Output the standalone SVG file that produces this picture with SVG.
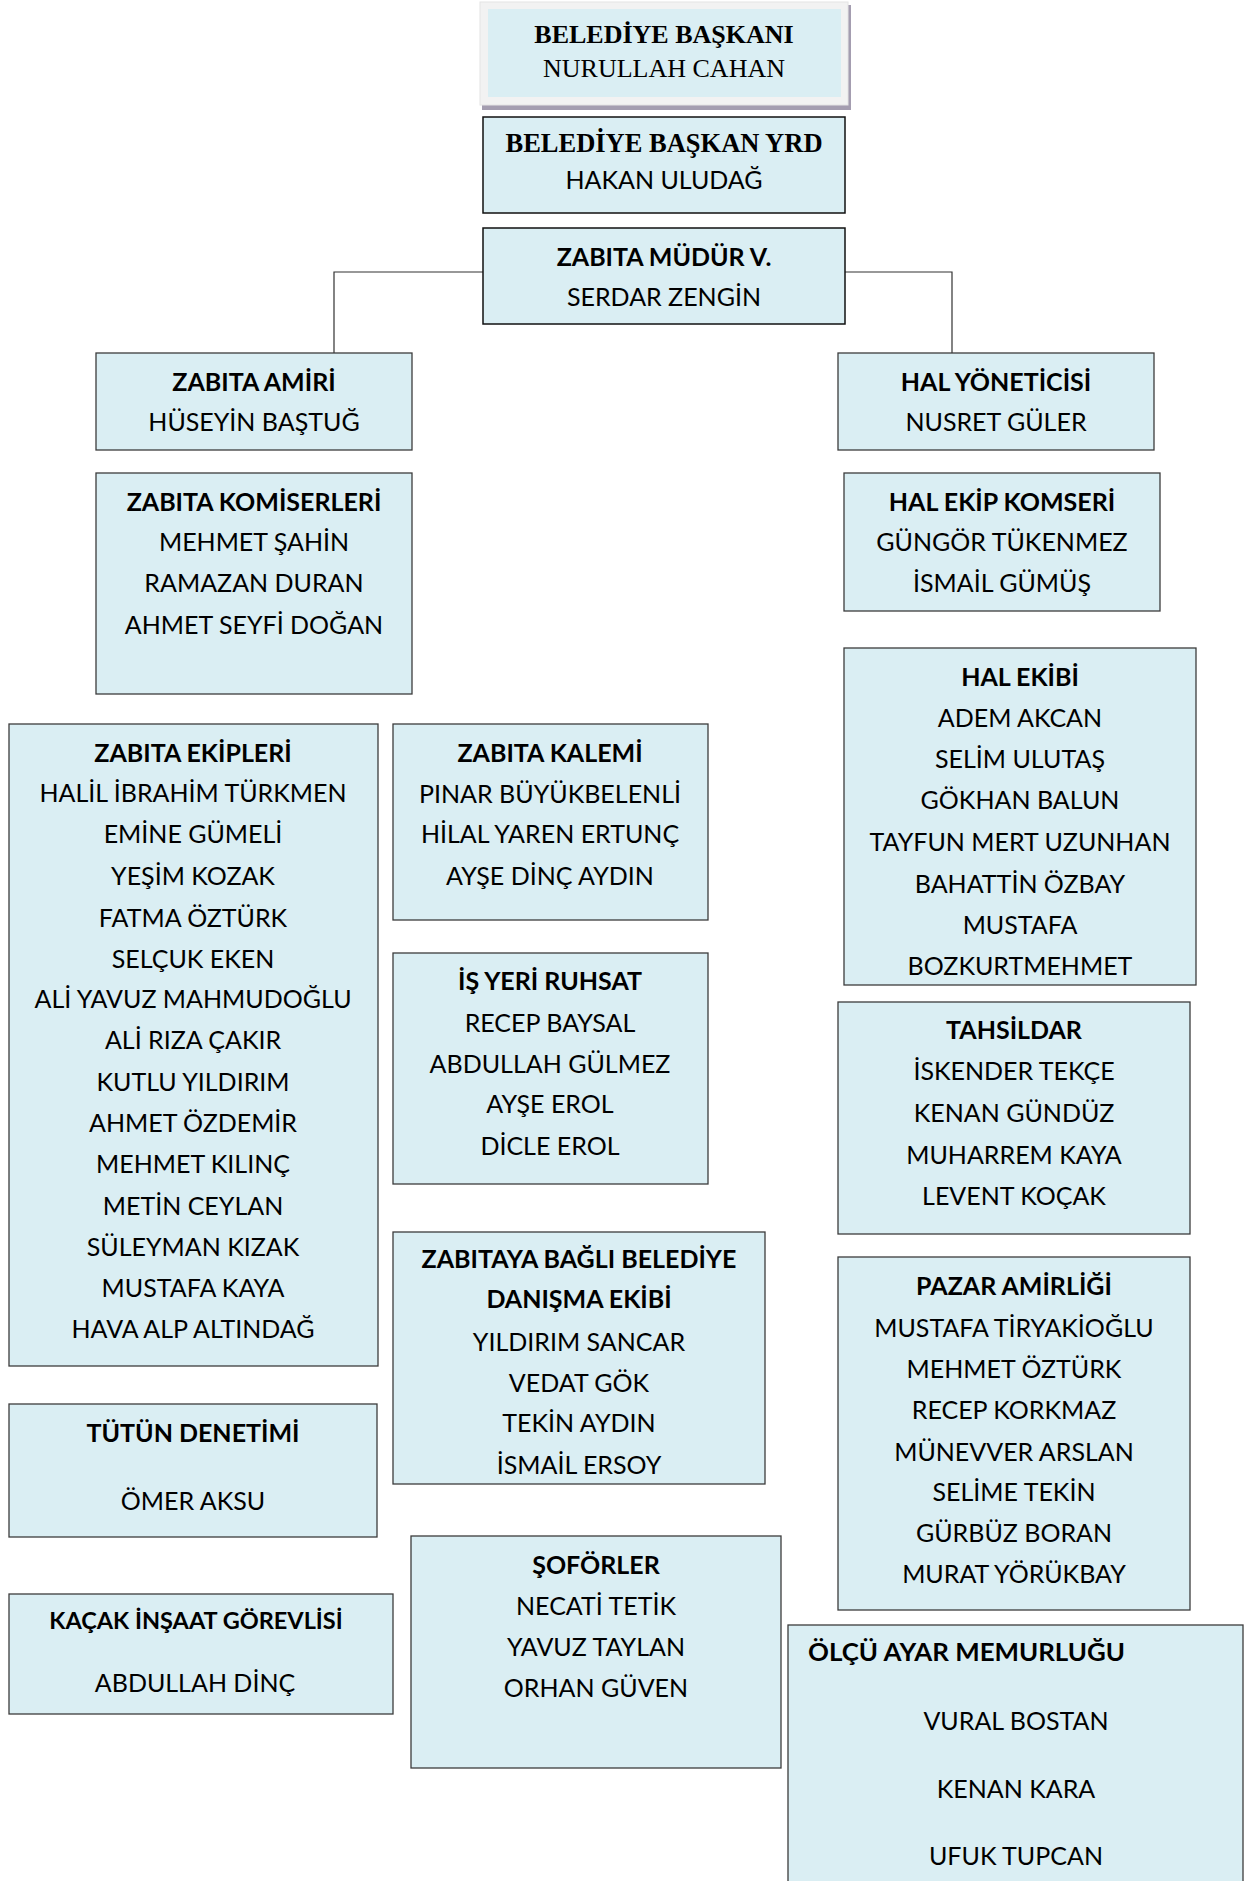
<svg xmlns="http://www.w3.org/2000/svg" width="1244" height="1881" viewBox="0 0 1244 1881">
<style>
.box{fill:#DAEEF3;stroke:#3c3c3c;stroke-width:1.3}
.box2{fill:#DAEEF3;stroke:#111;stroke-width:1.5}
.t{font-family:Lato,"Liberation Sans",sans-serif;font-size:25px;text-anchor:middle;fill:#000}
.s{font-family:"Liberation Serif",serif;font-size:26px;text-anchor:middle;fill:#000}
.b{font-weight:bold}
.conn{fill:none;stroke:#333;stroke-width:1.2}
</style>
<rect width="1244" height="1881" fill="#fff"/>
<g id="connectors">
<polyline class="conn" points="483,272 334,272 334,353"/>
<polyline class="conn" points="845,272 952,272 952,353"/>
</g>
<g id="baskan">
<rect x="482" y="5" width="369" height="105" fill="#A49DB0"/>
<rect x="480" y="2" width="368" height="103" fill="#F2F2F2" stroke="#e4e4e4" stroke-width="1"/>
<rect x="488" y="9" width="353" height="88" fill="#DAEEF3"/>
<text class="s b" x="664" y="43">BELEDİYE BAŞKANI</text>
<text class="s" x="664" y="77">NURULLAH CAHAN</text>
</g>
<g id="baskan-yrd">
<rect class="box2" x="483" y="117" width="362" height="96"/>
<text class="s b" x="664" y="152" style="font-size:26.5px">BELEDİYE BAŞKAN YRD</text>
<text class="t" x="664" y="189">HAKAN ULUDAĞ</text>
</g>
<g id="zabita-mudur">
<rect class="box2" x="483" y="228" width="362" height="96"/>
<text class="t b" x="664" y="266">ZABITA MÜDÜR V.</text>
<text class="t" x="664" y="306">SERDAR ZENGİN</text>
</g>
<g id="zabita-amiri">
<rect class="box" x="96" y="353" width="316" height="97"/>
<text class="t b" x="254" y="391">ZABITA AMİRİ</text>
<text class="t" x="254" y="431">HÜSEYİN BAŞTUĞ</text>
</g>
<g id="zabita-komiserleri">
<rect class="box" x="96" y="473" width="316" height="221"/>
<text class="t b" x="254" y="511">ZABITA KOMİSERLERİ</text>
<text class="t" x="254" y="551">MEHMET ŞAHİN</text>
<text class="t" x="254" y="592">RAMAZAN DURAN</text>
<text class="t" x="254" y="634">AHMET SEYFİ DOĞAN</text>
</g>
<g id="hal-yoneticisi">
<rect class="box" x="838" y="353" width="316" height="97"/>
<text class="t b" x="996" y="391">HAL YÖNETİCİSİ</text>
<text class="t" x="996" y="431">NUSRET GÜLER</text>
</g>
<g id="hal-ekip-komseri">
<rect class="box" x="844" y="473" width="316" height="138"/>
<text class="t b" x="1002" y="511">HAL EKİP KOMSERİ</text>
<text class="t" x="1002" y="551">GÜNGÖR TÜKENMEZ</text>
<text class="t" x="1002" y="592">İSMAİL GÜMÜŞ</text>
</g>
<g id="hal-ekibi">
<rect class="box" x="844" y="648" width="352" height="337"/>
<text class="t b" x="1020" y="686">HAL EKİBİ</text>
<text class="t" x="1020" y="727">ADEM AKCAN</text>
<text class="t" x="1020" y="768">SELİM ULUTAŞ</text>
<text class="t" x="1020" y="809">GÖKHAN BALUN</text>
<text class="t" x="1020" y="851">TAYFUN MERT UZUNHAN</text>
<text class="t" x="1020" y="893">BAHATTİN ÖZBAY</text>
<text class="t" x="1020" y="934">MUSTAFA</text>
<text class="t" x="1020" y="975">BOZKURTMEHMET</text>
</g>
<g id="tahsildar">
<rect class="box" x="838" y="1002" width="352" height="232"/>
<text class="t b" x="1014" y="1039">TAHSİLDAR</text>
<text class="t" x="1014" y="1080">İSKENDER TEKÇE</text>
<text class="t" x="1014" y="1122">KENAN GÜNDÜZ</text>
<text class="t" x="1014" y="1164">MUHARREM KAYA</text>
<text class="t" x="1014" y="1205">LEVENT KOÇAK</text>
</g>
<g id="pazar-amirligi">
<rect class="box" x="838" y="1257" width="352" height="353"/>
<text class="t b" x="1014" y="1295">PAZAR AMİRLİĞİ</text>
<text class="t" x="1014" y="1337">MUSTAFA TİRYAKİOĞLU</text>
<text class="t" x="1014" y="1378">MEHMET ÖZTÜRK</text>
<text class="t" x="1014" y="1419">RECEP KORKMAZ</text>
<text class="t" x="1014" y="1461">MÜNEVVER ARSLAN</text>
<text class="t" x="1014" y="1501">SELİME TEKİN</text>
<text class="t" x="1014" y="1542">GÜRBÜZ BORAN</text>
<text class="t" x="1014" y="1583">MURAT YÖRÜKBAY</text>
</g>
<g id="olcu-ayar">
<rect class="box" x="788" y="1625" width="455" height="270"/>
<text class="t b" x="808" y="1661" style="text-anchor:start" textLength="317" lengthAdjust="spacingAndGlyphs">ÖLÇÜ AYAR MEMURLUĞU</text>
<text class="t" x="1016" y="1730">VURAL BOSTAN</text>
<text class="t" x="1016" y="1798">KENAN KARA</text>
<text class="t" x="1016" y="1865">UFUK TUPCAN</text>
</g>
<g id="zabita-ekipleri">
<rect class="box" x="9" y="724" width="369" height="642"/>
<text class="t b" x="193" y="762">ZABITA EKİPLERİ</text>
<text class="t" x="193" y="802">HALİL İBRAHİM TÜRKMEN</text>
<text class="t" x="193" y="843">EMİNE GÜMELİ</text>
<text class="t" x="193" y="885">YEŞİM KOZAK</text>
<text class="t" x="193" y="927">FATMA ÖZTÜRK</text>
<text class="t" x="193" y="968">SELÇUK EKEN</text>
<text class="t" x="193" y="1008">ALİ YAVUZ MAHMUDOĞLU</text>
<text class="t" x="193" y="1049">ALİ RIZA ÇAKIR</text>
<text class="t" x="193" y="1091">KUTLU YILDIRIM</text>
<text class="t" x="193" y="1132">AHMET ÖZDEMİR</text>
<text class="t" x="193" y="1173">MEHMET KILINÇ</text>
<text class="t" x="193" y="1215">METİN CEYLAN</text>
<text class="t" x="193" y="1256">SÜLEYMAN KIZAK</text>
<text class="t" x="193" y="1297">MUSTAFA KAYA</text>
<text class="t" x="193" y="1338">HAVA ALP ALTINDAĞ</text>
</g>
<g id="zabita-kalemi">
<rect class="box" x="393" y="724" width="315" height="196"/>
<text class="t b" x="550" y="762">ZABITA KALEMİ</text>
<text class="t" x="550" y="803">PINAR BÜYÜKBELENLİ</text>
<text class="t" x="550" y="843">HİLAL YAREN ERTUNÇ</text>
<text class="t" x="550" y="885">AYŞE DİNÇ AYDIN</text>
</g>
<g id="is-yeri-ruhsat">
<rect class="box" x="393" y="953" width="315" height="231"/>
<text class="t b" x="550" y="990">İŞ YERİ RUHSAT</text>
<text class="t" x="550" y="1032">RECEP BAYSAL</text>
<text class="t" x="550" y="1073">ABDULLAH GÜLMEZ</text>
<text class="t" x="550" y="1113">AYŞE EROL</text>
<text class="t" x="550" y="1155">DİCLE EROL</text>
</g>
<g id="danisma-ekibi">
<rect class="box" x="393" y="1232" width="372" height="252"/>
<text class="t b" x="579" y="1268">ZABITAYA BAĞLI BELEDİYE</text>
<text class="t b" x="579" y="1308">DANIŞMA EKİBİ</text>
<text class="t" x="579" y="1351">YILDIRIM SANCAR</text>
<text class="t" x="579" y="1392">VEDAT GÖK</text>
<text class="t" x="579" y="1432">TEKİN AYDIN</text>
<text class="t" x="579" y="1474">İSMAİL ERSOY</text>
</g>
<g id="tutun-denetimi">
<rect class="box" x="9" y="1404" width="368" height="133"/>
<text class="t b" x="193" y="1442">TÜTÜN DENETİMİ</text>
<text class="t" x="193" y="1510">ÖMER AKSU</text>
</g>
<g id="kacak-insaat">
<rect class="box" x="9" y="1594" width="384" height="120"/>
<text class="t b" x="196" y="1629" style="font-size:23.5px">KAÇAK İNŞAAT GÖREVLİSİ</text>
<text class="t" x="195" y="1692">ABDULLAH DİNÇ</text>
</g>
<g id="soforler">
<rect class="box" x="411" y="1536" width="370" height="232"/>
<text class="t b" x="596" y="1574">ŞOFÖRLER</text>
<text class="t" x="596" y="1615">NECATİ TETİK</text>
<text class="t" x="596" y="1656">YAVUZ TAYLAN</text>
<text class="t" x="596" y="1697">ORHAN GÜVEN</text>
</g>
</svg>
